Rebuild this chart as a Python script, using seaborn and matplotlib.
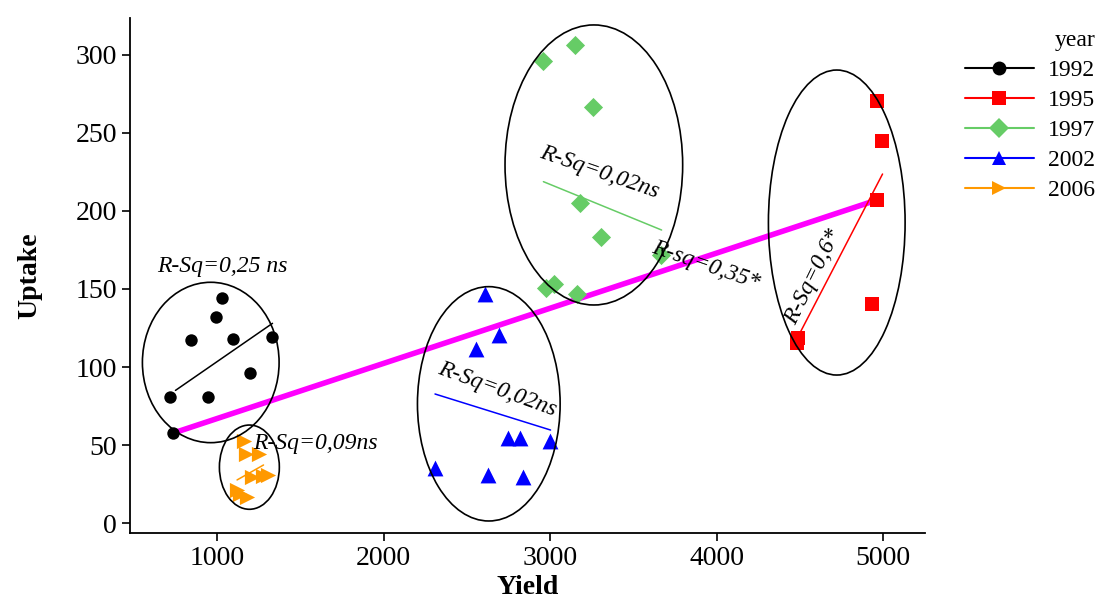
import matplotlib
matplotlib.use("Agg")
import matplotlib.pyplot as plt
from matplotlib.patches import Ellipse
from matplotlib.lines import Line2D
import numpy as np
import pandas as pd
import seaborn as sns

# ---------------- data ----------------
years = ["1992", "1995", "1997", "2002", "2006"]

yield_1992 = [1028, 994, 842, 1094, 1329, 1198, 718, 944, 738]
uptake_1992 = [144, 132, 117, 118, 119, 96, 81, 80.6, 58]

yield_1995 = [4962, 4996, 4962, 4932, 4482, 4489]
uptake_1995 = [270.7, 245, 207, 140.4, 115.2, 118.6]

yield_1997 = [3150, 2960, 3260, 3180, 3305, 3667, 2976, 3024, 3160]
uptake_1997 = [306.4, 296.4, 266.5, 204.9, 183.5, 171.8, 150.8, 153.2, 146.8]

yield_2002 = [2610, 2696, 2554, 2750, 2820, 3000, 2309, 2629, 2839]
uptake_2002 = [146.8, 120.5, 111.5, 54.3, 54.3, 52.8, 35, 30.8, 29.7]

yield_2006 = [1162, 1174, 1252, 1210, 1276, 1306, 1120, 1138, 1180]
uptake_2006 = [52.6, 44.2, 44.2, 29.5, 30.1, 30.8, 21.2, 18.6, 16.7]

# per-year fitted line end points (x, y)
fit_x = {"1992": [750, 1333], "1995": [4489, 4997], "1997": [2960, 3670],
         "2002": [2309, 3003], "2006": [1120, 1279]}
fit_y = {"1992": [85, 128], "1995": [119.4, 223.7], "1997": [218.8, 187.8],
         "2002": [82.7, 59.6], "2006": [27.6, 37.2]}

# overall fitted line
overall_x = [738, 4962]
overall_y = [57.7, 207]

# cluster ellipses: centre x, centre y, width (yield units), height (uptake units)
ell_cx = [962, 1194, 2632, 3263, 4722]
ell_cy = [102.9, 35.8, 76.4, 229.5, 192.6]
ell_w = [821, 360, 857, 1067, 821]
ell_h = [102.8, 54, 150.2, 179.5, 195.5]

# annotations
ann_text = ["R-Sq=0,25 ns", "R-Sq=0,09ns", "R-Sq=0,02ns", "R-Sq=0,02ns",
            "R-sq=0,35*", "R-Sq=0,6*"]
ann_x = [640, 1216, 2680, 3294, 3937, 4580]
ann_y = [164.7, 51.1, 85.9, 224.7, 165.4, 157.7]
ann_rot = [0, 0, -20, -19, -19, 64]
ann_ha = ["left", "left", "center", "center", "center", "center"]

xticks = [1000, 2000, 3000, 4000, 5000]
yticks = [0, 50, 100, 150, 200, 250, 300]

# ---------------- style ----------------
colors = {"1992": "#000000", "1995": "#FF0000", "1997": "#66CC66",
          "2002": "#0000FF", "2006": "#FF9900"}
markers = {"1992": "o", "1995": "s", "1997": "D", "2002": "^", "2006": ">"}
msize = {"1992": 80, "1995": 95, "1997": 95, "2002": 130, "2006": 120}

sns.set_style("ticks")
plt.rcParams["font.family"] = ["Liberation Serif", "DejaVu Serif"]
plt.rcParams["text.color"] = "black"
plt.rcParams["axes.labelcolor"] = "black"
plt.rcParams["xtick.color"] = "black"
plt.rcParams["ytick.color"] = "black"

yields = {"1992": yield_1992, "1995": yield_1995, "1997": yield_1997,
          "2002": yield_2002, "2006": yield_2006}
uptakes = {"1992": uptake_1992, "1995": uptake_1995, "1997": uptake_1997,
           "2002": uptake_2002, "2006": uptake_2006}
df = pd.concat([pd.DataFrame({"Yield": yields[y], "Uptake": uptakes[y], "year": y})
                for y in years], ignore_index=True)

fig = plt.figure(figsize=(10.99, 6.02), dpi=100)
ax = fig.add_axes([130 / 1099, 1 - 533 / 602, (925 - 130) / 1099, (533 - 18) / 602])

# overall line
sns.lineplot(x=overall_x, y=overall_y, ax=ax, color="#FF00FF", lw=4, zorder=2)

for y in years:
    sns.lineplot(x=fit_x[y], y=fit_y[y], ax=ax, color=colors[y], lw=1.1, zorder=2)

for y in years:
    sub = df[df["year"] == y]
    sns.scatterplot(data=sub, x="Yield", y="Uptake", ax=ax, color=colors[y],
                    marker=markers[y], s=msize[y], linewidth=0, zorder=3, legend=False)

for cx, cy, w, h in zip(ell_cx, ell_cy, ell_w, ell_h):
    ax.add_patch(Ellipse((cx, cy), w, h, fill=False, edgecolor="black", lw=1.2, zorder=4))

for t, x, yv, r, ha in zip(ann_text, ann_x, ann_y, ann_rot, ann_ha):
    ax.text(x, yv, t, rotation=r, ha=ha, va="center", rotation_mode="anchor",
            fontsize=17, fontstyle="italic", color="black", zorder=5)

ax.set_xlim(477, 5252)
ax.set_ylim(-6.4, 323.7)
ax.set_xticks(xticks)
ax.set_yticks(yticks)
ax.tick_params(labelsize=20, length=6, width=1.2, direction="out", colors="black")
ax.set_xlabel("Yield", fontsize=20, fontweight="bold", labelpad=3, color="black")
ax.set_ylabel("Uptake", fontsize=20, fontweight="bold", labelpad=24, color="black")
for s in ["left", "bottom"]:
    ax.spines[s].set_linewidth(1.3)
    ax.spines[s].set_color("black")
sns.despine(ax=ax)

handles = [Line2D([], [], color=colors[y], marker=markers[y], markersize=10, lw=1.5,
                  markeredgewidth=0) for y in years]
leg = fig.legend(handles, years, title="year", loc="upper left",
                 bbox_to_anchor=(944 / 1099, 1 - 9 / 602), frameon=False,
                 fontsize=17, title_fontsize=17, handlelength=2.9, handletextpad=0.6,
                 labelspacing=0.36, alignment="right", labelcolor="black")
leg.get_title().set_color("black")

fig.savefig("out.png", dpi=100)
